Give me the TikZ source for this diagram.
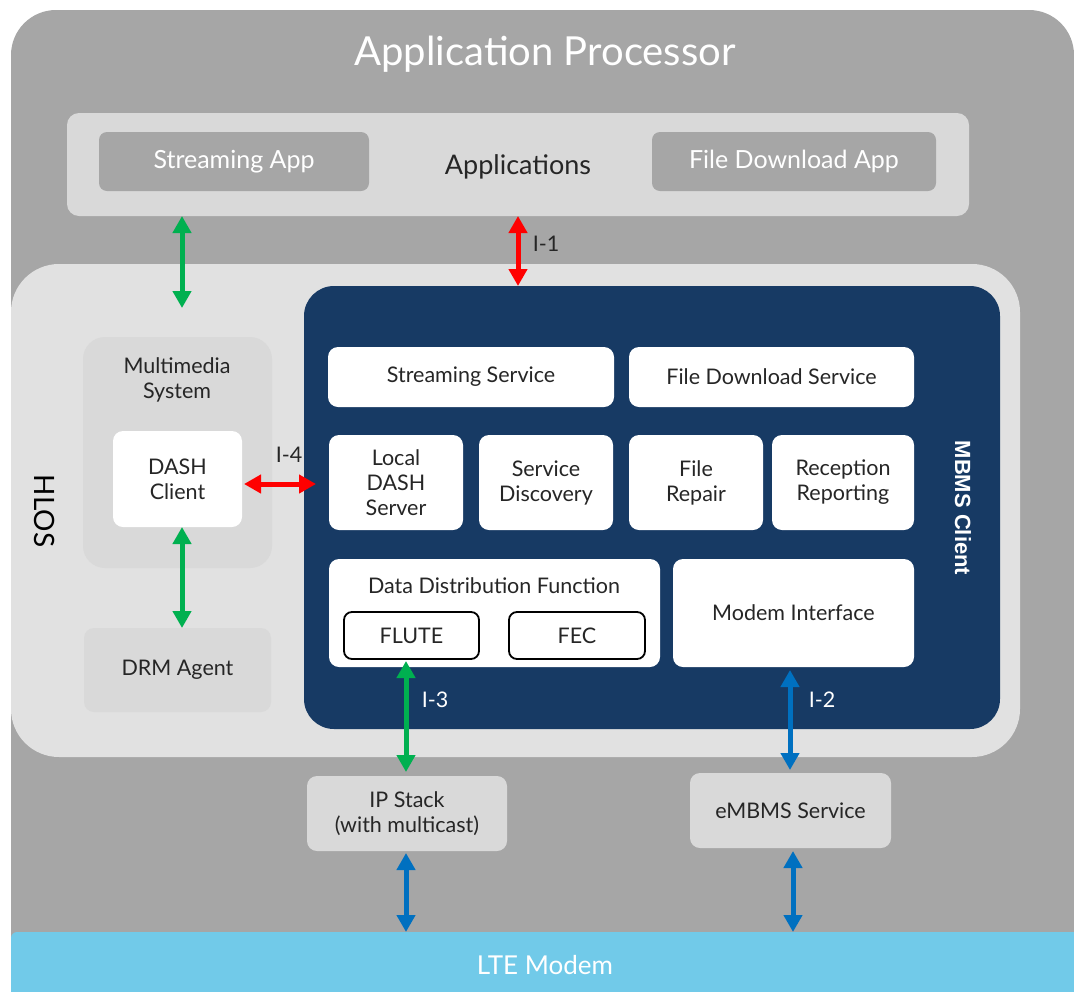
\documentclass[tikz,border=0pt]{standalone}
\usepackage{fontspec}
\setmainfont{Lato}
\newfontfamily\boldarial{Liberation Sans}
\usetikzlibrary{arrows.meta}
\definecolor{outergray}{HTML}{A6A6A6}
\definecolor{appsgray}{HTML}{D9D9D9}
\definecolor{hlosgray}{HTML}{E1E1E1}
\definecolor{navy}{HTML}{173A64}
\definecolor{ltecol}{HTML}{71CAE9}
\definecolor{txt}{HTML}{262626}
\definecolor{agreen}{HTML}{00B050}
\definecolor{ared}{HTML}{FF0000}
\definecolor{ablue}{HTML}{0070C0}
\tikzset{
  bx/.style={rectangle, rounded corners=#1, inner sep=0pt, outer sep=0pt, align=center, text=txt},
  whitebox/.style={bx=10pt, fill=white},
  graybox/.style={bx=10pt, fill=appsgray},
  outlinebox/.style={bx=8pt, fill=white, draw=black, line width=1.8pt},
  fn/.style={font=\fontsize{21.5}{25}\selectfont},
  big/.style={font=\fontsize{25}{30}\selectfont},
  arr/.style={{Triangle[width=18pt,length=17pt]}-{Triangle[width=18pt,length=17pt]}, line width=5pt},
}
\newcommand\mybox[7]{\node[#6, minimum width={(#4-#2)*1pt}, minimum height={(#5-#3)*1pt}] (#1) at ({(#2+#4)/2},{(#3+#5)/2}) {#7};}
\begin{document}
\begin{tikzpicture}[x=1pt,y=-1pt]
\path[use as bounding box, clip] (0,0) rectangle (1074,991);
% outer
\mybox{ap}{11}{10}{1074}{1040}{bx=45pt, fill=outergray}{}
\node[text=white, font=\fontsize{40}{46}\selectfont] (aptitle) at (545,54) {Application Processor};
% applications
\mybox{apps}{67}{113}{969}{216}{bx=12pt, fill=appsgray}{}
\node[text=txt, font=\fontsize{27}{32}\selectfont] (appstitle) at (518,167) {Applications};
\mybox{sapp}{99}{132}{369}{191}{bx=8pt, fill=outergray, text=white, big}{Streaming App}
\mybox{fapp}{652}{132}{936}{191}{bx=8pt, fill=outergray, text=white, big}{File Download App}
% HLOS
\mybox{hlos}{11}{264}{1020}{757}{bx=48pt, fill=hlosgray}{}
\node[rotate=-90, text=black, font=\fontsize{28}{32}\selectfont] (hlostitle) at (45,511) {HLOS};
\mybox{mms}{83}{337}{272}{568}{bx=22pt, fill=appsgray}{}
\node[fn, text=txt, align=center] (mmstitle) at (177,380) {Multimedia\\System};
\mybox{dash}{113}{431}{242}{527}{whitebox, fn}{DASH\\Client}
\mybox{drm}{84}{628}{271}{712}{graybox, fn}{DRM Agent}
% MBMS client
\mybox{mbms}{304}{286}{1000}{729}{bx=30pt, fill=navy}{}
\node[rotate=-90, text=white, font=\boldarial\bfseries\fontsize{22}{26}\selectfont] (mbmstitle) at (963,508) {MBMS Client};
\mybox{ss}{328}{347}{614}{407}{whitebox, fn}{Streaming Service}
\mybox{fds}{629}{347}{914}{407}{whitebox, fn}{File Download Service}
\mybox{lds}{329}{435}{463}{530}{whitebox, fn}{Local\\DASH\\Server}
\mybox{sd}{479}{435}{613}{530}{whitebox, fn}{Service\\Discovery}
\mybox{fr}{629}{435}{763}{530}{whitebox, fn}{File\\Repair}
\mybox{rr}{772}{435}{914}{530}{whitebox, fn}{Reception\\Reporting}
\mybox{ddf}{329}{559}{660}{667}{whitebox}{}
\node[fn, text=txt] (ddftitle) at (494,586) {Data Distribution Function};
\mybox{flute}{344}{612}{479}{659}{outlinebox, fn}{FLUTE}
\mybox{fec}{509}{612}{645}{659}{outlinebox, fn}{FEC}
\mybox{mi}{673}{559}{914}{667}{whitebox, fn}{Modem Interface}
% lower boxes
\mybox{ip}{307}{776}{507}{851}{graybox, fn}{IP Stack\\(with multicast)}
\mybox{emb}{690}{773}{891}{848}{graybox, fn}{eMBMS Service}
\mybox{lte}{11}{932}{1090}{1000}{bx=6pt, fill=ltecol}{}
\node[text=white, font=\fontsize{26}{30}\selectfont] (ltetitle) at (545,965) {LTE Modem};
% connector coordinates
\coordinate (gx) at (182,0);
\coordinate (ga) at (182,308);
\coordinate (i1x) at (518,0);
\coordinate (i4end) at (316,484);
\coordinate (i2x) at (790,0);
\coordinate (i3x) at (406,0);
\coordinate (b2x) at (793,0);
% arrows
\draw[arr, agreen] (apps.south -| gx) -- (ga);
\draw[arr, ared] (apps.south -| i1x) -- (mbms.north -| i1x);
\node[fn, text=txt] (i1) at (546,244) {I-1};
\draw[arr, ared] ([xshift=2pt]dash.east |- i4end) -- (i4end);
\node[fn, text=txt] (i4) at (289,455) {I-4};
\draw[arr, agreen] (dash.south -| gx) -- (drm.north -| gx);
\draw[arr, agreen] ([yshift=-2pt]flute.south -| i3x) -- ([yshift=4pt]ip.north -| i3x);
\node[fn, text=white] (i3) at (435,700) {I-3};
\draw[arr, ablue] ([yshift=-3pt]mi.south -| i2x) -- ([yshift=3pt]emb.north -| i2x);
\node[fn, text=white] (i2) at (822,700) {I-2};
\draw[arr, ablue] ([yshift=-2pt]ip.south -| i3x) -- (lte.north -| i3x);
\draw[arr, ablue] ([yshift=-3pt]emb.south -| b2x) -- (lte.north -| b2x);
\end{tikzpicture}
\end{document}
